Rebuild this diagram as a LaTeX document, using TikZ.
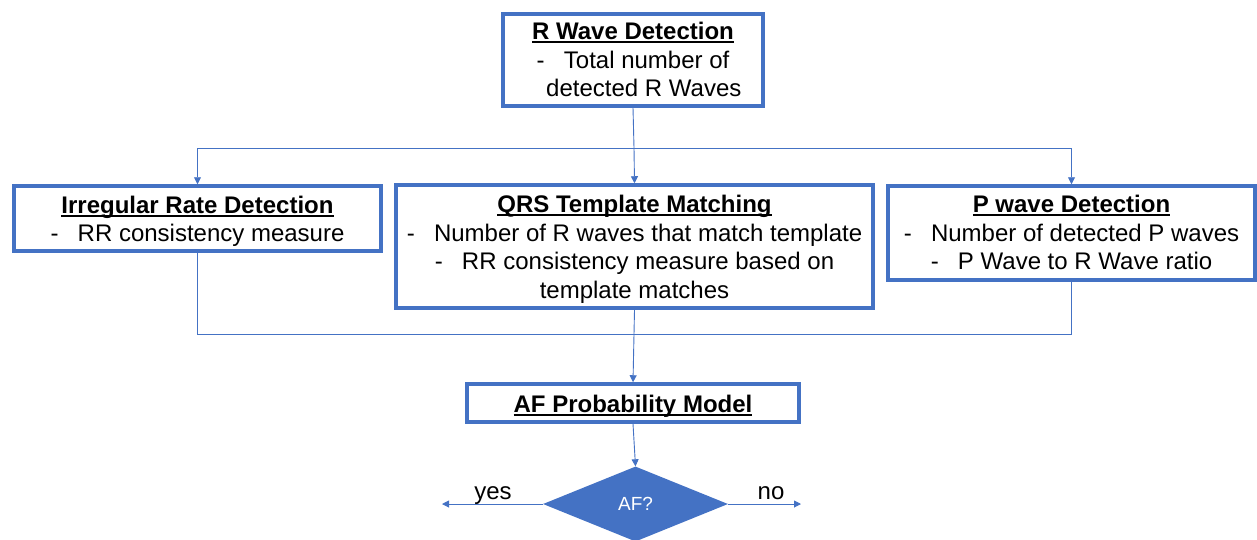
\documentclass[tikz,border=0pt]{standalone}
\usepackage{fontspec}
\setmainfont{Liberation Sans}
\usetikzlibrary{shapes.geometric,arrows.meta,positioning,calc}
\definecolor{boxblue}{RGB}{68,114,196}
\newcommand{\hdline}[1]{\setbox0\hbox{\bfseries #1}\rlap{\rule[-3.5pt]{\wd0}{1.8pt}}\box0\rule{0pt}{23pt}}
\newcommand{\bul}{-\hspace{0.8em}}
\newcommand{\lowend}{\rule[-7pt]{0pt}{7pt}}

\begin{document}
\begin{tikzpicture}[x=1pt,y=-1pt,
    box/.style={draw=boxblue, line width=3.5pt, fill=white, inner sep=0pt, align=center,
        font=\fontsize{24}{28.7}\selectfont},
    link/.style={draw=boxblue, line width=0.9pt},
    arr/.style={link, -{Triangle[length=7pt,width=7pt]}}]
    \useasboundingbox (0,0) rectangle (1257,539);
    \clip (0,0) rectangle (1257,539);

    % Boxes
    \node[box, minimum width=260, minimum height=92] (rwave) at (633,60)
        {\hdline{R Wave Detection}\\ \bul Total number of\\ \hspace{0.9em}detected R Waves\lowend};
    \node[box, minimum width=367, minimum height=65] (irr) at (197.5,218.5)
        {\hdline{Irregular Rate Detection}\\ \bul RR consistency measure};
    \node[box, minimum width=477, minimum height=123] (qrs) at (634.5,246.5)
        {\hdline{QRS Template Matching}\\ \bul Number of R waves that match template\\
         \bul RR consistency measure based on\\ template matches};
    \node[box, minimum width=367, minimum height=94] (pwave) at (1071.5,233)
        {\hdline{P wave Detection}\\ \bul Number of detected P waves\\ \bul P Wave to R Wave ratio\lowend};
    \node[box, minimum width=332, minimum height=38] (model) at (633,403)
        {\hdline{AF Probability Model}};

    % Decision
    \node[diamond, fill=boxblue, inner sep=0pt, minimum width=185, minimum height=75,
        text=white, font=\fontsize{19}{22}\selectfont] (af) at (635.5,504) {AF?};

    % Split and merge
    \coordinate (split) at (634,148);
    \coordinate (merge) at (634,334);
    \coordinate (yesend) at (442,504);
    \coordinate (noend) at (801,504);

    \draw[link] (rwave.south) -- (split);
    \draw[link] (irr.north |- split) -- (pwave.north |- split);
    \draw[arr] (irr.north |- split) -- (irr.north);
    \draw[arr] (split) -- (qrs.north);
    \draw[arr] (pwave.north |- split) -- (pwave.north);

    \draw[link] (irr.south) -- (irr.south |- merge) -- (pwave.south |- merge) -- (pwave.south);
    \draw[arr] (qrs.south) -- (model.north);
    \draw[arr] (model.south) -- (af.north);

    % Outcomes
    \draw[arr] (af.west) -- (yesend);
    \draw[arr] (af.east) -- (noend);
    \node[font=\fontsize{24}{28}\selectfont] (yes) at (493,496) {yes};
    \node[font=\fontsize{24}{28}\selectfont] (no) at (771,493) {no};
\end{tikzpicture}
\end{document}
